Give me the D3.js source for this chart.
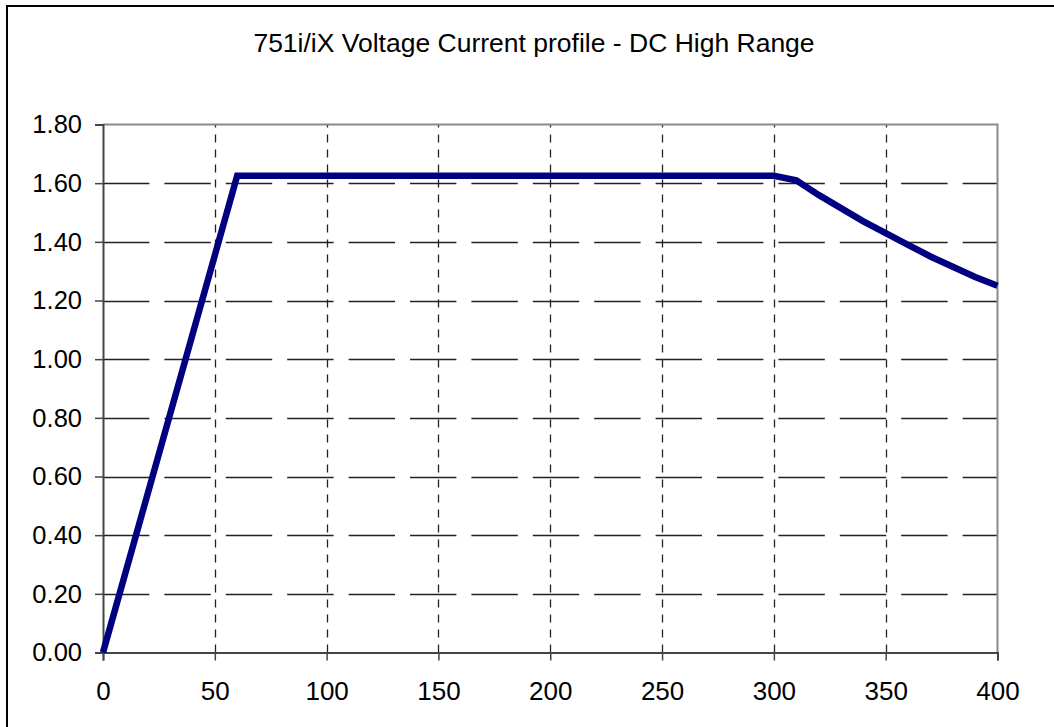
<!DOCTYPE html>
<html>
<head>
<meta charset="utf-8">
<script src="https://cdn.jsdelivr.net/npm/d3@7"></script>
<style>
  html, body { margin: 0; padding: 0; background: #fff; }
  svg { display: block; }
  text { font-family: "Liberation Sans", Arial, sans-serif; fill: #000; }
</style>
</head>
<body>
<svg id="chart" width="1054" height="727"></svg>
<script>
const title = "751i/iX Voltage Current profile - DC High Range";
const xValues = [0, 60, 300, 310, 320, 330, 340, 350, 360, 370, 380, 390, 400];
const yValues = [0, 1.625, 1.625, 1.61, 1.56, 1.515, 1.47, 1.43, 1.39, 1.35, 1.315, 1.28, 1.25];
const xTicks = [0, 50, 100, 150, 200, 250, 300, 350, 400];
const yTicks = [0, 0.2, 0.4, 0.6, 0.8, 1.0, 1.2, 1.4, 1.6, 1.8];

const svg = d3.select("#chart");
const W = 1054, H = 727;
const plot = { left: 103, right: 997.5, top: 124.5, bottom: 652.5 };

// outer frame
svg.append("rect")
  .attr("x", 7).attr("y", 6)
  .attr("width", W + 20).attr("height", H + 20)
  .attr("fill", "#fff").attr("stroke", "#000").attr("stroke-width", 2);

const x = d3.scaleLinear().domain([0, 400]).range([plot.left, plot.right]);
const y = d3.scaleLinear().domain([0, 1.8]).range([plot.bottom, plot.top]);

// title
svg.append("text")
  .attr("x", 534).attr("y", 52)
  .attr("text-anchor", "middle")
  .attr("font-size", 26.5)
  .text(title);

// horizontal dashed gridlines
svg.append("g").selectAll("line")
  .data(yTicks.filter(d => d > 0 && d < 1.8))
  .join("line")
  .attr("x1", plot.left).attr("x2", plot.right)
  .attr("y1", d => Math.round(y(d)) + 0.5).attr("y2", d => Math.round(y(d)) + 0.5)
  .attr("stroke", "#222").attr("stroke-width", 1.3)
  .attr("stroke-dasharray", "46.4,15");

// vertical dashed gridlines
svg.append("g").selectAll("line")
  .data(xTicks.filter(d => d > 0 && d < 400))
  .join("line")
  .attr("x1", d => Math.round(x(d)) + 0.5).attr("x2", d => Math.round(x(d)) + 0.5)
  .attr("y1", plot.bottom).attr("y2", plot.top)
  .attr("stroke", "#222").attr("stroke-width", 1.3)
  .attr("stroke-dasharray", "8,7");

// plot border top & right (gray)
svg.append("path")
  .attr("d", `M${plot.left},${plot.top}H${plot.right}V${plot.bottom}`)
  .attr("fill", "none").attr("stroke", "#8a8a8a").attr("stroke-width", 2);

// axes
const xAxis = d3.axisBottom(x).tickValues(xTicks).tickSize(8).tickPadding(21)
  .tickFormat(d3.format("d"));
const gx = svg.append("g").attr("transform", `translate(0,${plot.bottom})`).call(xAxis);
gx.select(".domain").attr("stroke", "#444").attr("stroke-width", 2);
gx.selectAll(".tick line").attr("stroke", "#444").attr("stroke-width", 1.5);
gx.selectAll(".tick text").attr("font-size", 26).attr("font-family", "Liberation Sans, Arial, sans-serif").attr("fill", "#000").attr("dy", "0.71em");

const yAxis = d3.axisLeft(y).tickValues(yTicks).tickSize(8).tickPadding(13)
  .tickFormat(d3.format(".2f"));
const gy = svg.append("g").attr("transform", `translate(${plot.left},0)`).call(yAxis);
gy.select(".domain").attr("stroke", "#444").attr("stroke-width", 2);
gy.selectAll(".tick line").attr("stroke", "#444").attr("stroke-width", 1.5);
gy.selectAll(".tick text").attr("font-size", 25.5).attr("font-family", "Liberation Sans, Arial, sans-serif").attr("fill", "#000");

// data line
const line = d3.line().x((d, i) => x(xValues[i])).y(d => y(d));
svg.append("path")
  .datum(yValues)
  .attr("d", line)
  .attr("fill", "none")
  .attr("stroke", "#000080")
  .attr("stroke-width", 6.5)
  .attr("stroke-linejoin", "miter");
</script>
</body>
</html>
